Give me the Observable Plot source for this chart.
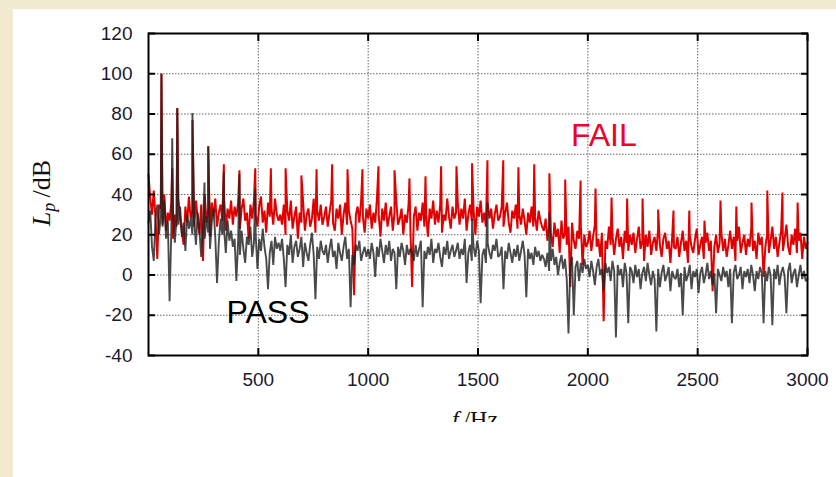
<!DOCTYPE html>
<html><head><meta charset="utf-8">
<script src="https://cdn.jsdelivr.net/npm/d3@7"></script>
<script src="https://cdn.jsdelivr.net/npm/@observablehq/plot@0.6"></script>
<style>
html,body{margin:0;padding:0;width:836px;height:477px;overflow:hidden;background:#f2ead0;}
#panel{position:absolute;left:13px;top:9px;width:823px;height:468px;background:#fff;}
#chart{position:absolute;left:0;top:0;}
#ylab{position:absolute;left:-41px;top:169px;width:140px;height:30px;line-height:30px;text-align:center;transform:rotate(-90deg);font-family:"Liberation Serif","DejaVu Serif",serif;font-size:26px;color:#111;white-space:nowrap;}
#ylab sub{font-size:18px;vertical-align:-5px;line-height:0;}
#xlab{position:absolute;left:402px;top:395px;width:120px;height:18px;line-height:30px;overflow:hidden;text-align:center;font-family:"Liberation Serif","DejaVu Serif",serif;font-size:24px;color:#111;white-space:nowrap;}
</style>
</head><body>
<div id="panel">
  <div id="chart"></div>
  <div id="ylab"><i>L</i><sub><i>p</i></sub>&thinsp;/dB</div>
  <div id="xlab"><i>f</i>&thinsp;/Hz</div>
</div>
<script>
// frequency step of the noise samples (Hz)
const freqStep = 8;

// FAIL spectrum (red) noise floor, dB, 25 samples per 200 Hz row
const failNoise = [
  [50,38,30,42,28,8,35,33,25,40,22,31,27,36,18,30,24,38,29,21,15,34,26,39,28],
  [32,24,37,28,20,35,7,40,26,33,19,36,29,38,24,31,35,27,39,22,33,28,37,25,34],
  [29,36,23,33,38,27,31,18,35,28,37,30,24,34,39,26,32,21,36,29,33,25,38,30,27],
  [30,25,35,20,32,27,37,23,29,34,18,31,26,36,22,30,33,24,28,38,21,32,27,35,25],
  [29,34,24,31,37,26,22,33,28,35,20,30,36,25,32,27,23,-10,30,34,26,37,29,21,33],
  [28,35,23,31,26,38,30,19,33,27,36,24,29,34,22,31,37,25,28,33,20,30,26,35,24],
  [-6,29,34,22,31,27,36,24,30,19,33,28,37,25,32,26,35,21,30,27,38,29,23,34,28],
  [31,36,25,33,28,38,22,30,35,27,32,20,34,29,37,26,31,24,36,28,33,23,30,35,27],
  [29,34,24,31,36,26,21,32,28,35,23,30,25,33,27,20,31,26,34,24,29,22,32,27,24],
  [22,28,17,25,20,14,26,19,23,11,27,18,21,15,24,-6,26,17,13,22,18,25,5,20,14],
  [16,22,12,19,25,14,18,9,21,-23,17,13,24,15,20,10,18,23,14,19,8,22,16,12,20],
  [15,21,11,18,24,13,17,7,20,14,22,10,16,19,12,23,15,9,18,21,13,17,6,19,14],
  [13,19,9,16,22,12,17,6,20,14,11,18,23,10,15,19,8,16,21,12,17,-8,14,20,11],
  [16,21,12,18,9,15,22,13,19,7,17,24,11,16,20,10,18,14,23,12,17,8,21,15,19],
  [-1,14,20,11,17,24,13,19,9,16,22,12,18,25,14,10,20,15,23,11,17,21,8,19,13],
  [16]
];

// PASS spectrum (dark) noise floor, dB
const passNoise = [
  [26,32,14,7,28,35,20,30,24,37,18,27,-13,22,31,16,29,25,34,19,26,12,30,23,28],
  [20,27,15,31,22,9,25,18,29,21,13,26,33,19,-4,16,28,20,23,11,27,17,22,14,18],
  [-3,17,10,22,13,6,19,15,24,9,16,20,3,18,12,23,14,8,-7,11,17,5,19,13,16],
  [12,18,8,-6,15,10,20,6,14,17,9,13,19,4,16,11,7,15,21,10,-12,14,8,17,12],
  [10,15,6,13,18,9,12,3,16,11,7,14,19,8,13,-16,10,5,15,12,17,7,11,14,9],
  [13,8,16,11,-1,14,9,18,12,6,15,10,17,7,13,11,-7,14,9,16,12,5,15,10,13],
  [11,7,15,9,13,17,-16,12,8,14,10,18,6,13,11,16,9,4,14,10,17,8,12,15,9],
  [12,16,8,13,10,18,-4,11,15,7,14,9,17,12,-14,10,13,6,16,11,8,15,12,18,9],
  [10,14,-7,12,8,16,11,6,13,9,15,7,12,17,10,-11,13,8,11,5,14,9,12,7,10],
  [8,4,11,2,7,13,5,9,0,6,10,3,8,-2,-29,5,9,-20,4,7,-3,6,1,8,3],
  [5,-1,7,2,-5,4,8,0,3,-8,6,1,4,-3,7,2,-31,5,0,3,-6,6,1,-24,4],
  [2,-4,5,-1,3,-7,1,4,-3,6,0,-5,2,-2,-28,3,-6,1,5,-3,0,4,-8,2,-1],
  [-2,3,-6,1,-20,4,-3,0,5,-7,2,-1,3,-9,1,4,-4,0,6,-2,2,-5,1,-19,3],
  [0,-3,4,-1,2,-6,3,-24,1,5,-2,0,4,-7,2,-1,3,-4,5,0,-8,2,-2,4,1],
  [-24,2,-3,4,0,-25,3,-2,5,-5,1,4,-1,-19,2,6,-4,1,3,-6,0,5,-2,2,-3],
  [-2]
];

// harmonic peaks [Hz, dB]
const failPeaks = [
  [59,100],[108,53],[131,83],[200,77],[272,64],[343,55],[414,52],[486,53],[557,53],
  [624,53],[696,49.5],[765,52.5],[836,55],[906,52.5],[974,52.5],[1047,54],[1120,52],
  [1188,48],[1261,49],[1332,54],[1402,54],[1473,55.5],[1543,57],[1615,57],[1684,53.5],
  [1756,55],[1825,50.5],[1897,47.5],[1967,47],[2035,43],[2108,38.5],[2179,38],[2249,38],
  [2320,32.5],[2390,32],[2462,32],[2531,27],[2604,37],[2676,34],[2745,36],[2817,42],
  [2886,41],[2955,36]
];
const passPeaks = [
  [59,100],[108,68],[131,83],[200,80.5],[255,46],[272,64],[343,51],[414,50],[486,43],
  [1473,28],[1543,36],[1825,31]
];

const xTicks = [500,1000,1500,2000,2500,3000];
const yTicks = [-40,-20,0,20,40,60,80,100,120];

const labels = ["FAIL","PASS"];
const labelF = [2073,544];
const labelV = [69,-19];
const labelColors = ["#f0002c","#000000"];

function build(rows, peaks){
  const noise = rows.flat().map((v,i)=>({f:i*freqStep, v}));
  const pk = peaks.map(([f,v])=>({f, v}));
  return noise.concat(pk).sort((a,b)=>a.f-b.f);
}
const failData = build(failNoise, failPeaks);
const passData = build(passNoise, passPeaks);
const annot = labels.map((t,i)=>({t, f:labelF[i], v:labelV[i], c:labelColors[i]}));

const tickColor = "#1a1a2e";
const fmt = d => String(d);
const chart = Plot.plot({
  width: 823, height: 400,
  marginLeft: 135, marginRight: 29, marginTop: 24, marginBottom: 54,
  style: {background: "transparent", fontFamily: "'Liberation Sans', Arial, sans-serif"},
  x: {domain: [0,3000]},
  y: {domain: [-40,120]},
  marks: [
    Plot.gridX(xTicks, {stroke: "#555", strokeOpacity: 0.9, strokeDasharray: "1.5,1.5"}),
    Plot.gridY(yTicks, {stroke: "#555", strokeOpacity: 0.9, strokeDasharray: "1.5,1.5"}),
    Plot.line(failData, {x: "f", y: "v", stroke: "#e00000", strokeWidth: 2, strokeLinejoin: "miter", strokeMiterlimit: 2}),
    Plot.line(passData, {x: "f", y: "v", stroke: "#222", strokeOpacity: 0.82, strokeWidth: 1.9, strokeLinejoin: "miter", strokeMiterlimit: 2}),
    Plot.text(annot, {x: "f", y: "v", text: "t", fill: "c", fontSize: 32, fontFamily: "'Liberation Sans', Arial, sans-serif"}),
    Plot.axisX(xTicks, {anchor: "bottom", tickSize: 0, tickPadding: 17, fontSize: 19, color: tickColor, label: null, tickFormat: fmt}),
    Plot.axisY(yTicks, {anchor: "left", tickSize: 0, tickPadding: 16, fontSize: 19, color: tickColor, label: null, tickFormat: fmt}),
    Plot.axisY(yTicks, {anchor: "left", tickSize: 7, dx: 7, strokeWidth: 2, stroke: "#000", tickFormat: () => "", label: null}),
    Plot.axisY(yTicks, {anchor: "right", tickSize: 7, dx: -7, strokeWidth: 2, stroke: "#000", tickFormat: () => "", label: null}),
    Plot.axisX(xTicks, {anchor: "bottom", tickSize: 7, dy: -7, strokeWidth: 2, stroke: "#000", tickFormat: () => "", label: null}),
    Plot.axisX(xTicks, {anchor: "top", tickSize: 7, dy: 7, strokeWidth: 2, stroke: "#000", tickFormat: () => "", label: null}),
    Plot.frame({stroke: "#000", strokeWidth: 2})
  ]
});
document.getElementById("chart").appendChild(chart);
</script>
</body></html>
